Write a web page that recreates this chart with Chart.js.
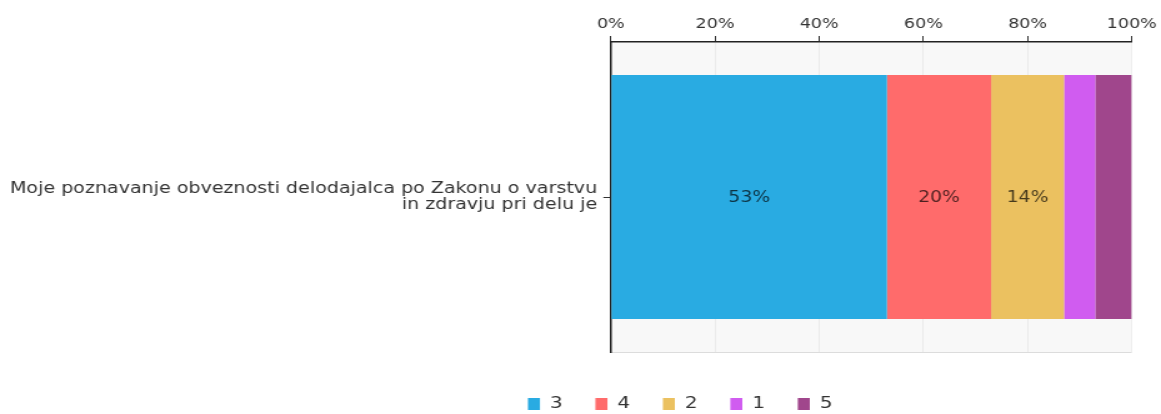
<!DOCTYPE html>
<html>
<head>
<meta charset="utf-8">
<script src="https://cdn.jsdelivr.net/npm/chart.js@4.4.1/dist/chart.umd.min.js"></script>
<style>
  html, body { margin: 0; padding: 0; background: #fff; overflow: hidden; width: 1161px; height: 414px; }
  #wrap { width: 1161px; height: 422px; }
  canvas { display: block; width: 1161px !important; height: 422px !important; }
</style>
</head>
<body>
<div id="wrap"><canvas id="c" width="929" height="422"></canvas></div>
<script>
// Survey item (one row) and answer shares in percent
const categories = [['Moje poznavanje obveznosti delodajalca po Zakonu o varstvu', 'in zdravju pri delu je']];
const seriesNames = ['3', '4', '2', '1', '5'];
const seriesValues = [[53], [20], [14], [6], [7]];
const seriesColors = ['#29abe2', '#ff6b6b', '#ebc160', '#d05cf0', '#a0468c'];
const tickValues = [0, 20, 40, 60, 80, 100];

const FONT = 'DejaVu Sans';
const LEGEND_SHIFT = 91.5;   // legend row sits right of the canvas centre

// light panel behind the plot area
const panelBg = {
  id: 'panelBg',
  beforeDraw(chart) {
    const { ctx, chartArea: a } = chart;
    ctx.save();
    ctx.fillStyle = '#f8f8f8';
    ctx.fillRect(a.left, a.top, a.right - a.left, a.bottom - a.top);
    ctx.strokeStyle = '#dcdcdc';
    ctx.lineWidth = 1;
    ctx.beginPath();
    ctx.moveTo(a.left, a.bottom + 0.5);
    ctx.lineTo(a.right, a.bottom + 0.5);
    ctx.stroke();
    ctx.restore();
  }
};

// move the legend box sideways once the layout is known
const legendOffset = {
  id: 'legendOffset',
  afterLayout(chart) {
    const lg = chart.legend;
    if (!lg) return;
    lg.left += LEGEND_SHIFT;
    lg.right += LEGEND_SHIFT;
  }
};

// percentage labels inside the wider segments
const segmentLabels = {
  id: 'segmentLabels',
  afterDatasetsDraw(chart) {
    const { ctx } = chart;
    ctx.save();
    ctx.font = '15px "' + FONT + '"';
    ctx.fillStyle = 'rgba(0,0,0,0.7)';
    ctx.textAlign = 'center';
    ctx.textBaseline = 'middle';
    chart.data.datasets.forEach((ds, i) => {
      const meta = chart.getDatasetMeta(i);
      meta.data.forEach((el, j) => {
        const v = ds.data[j];
        if (v < 10) return;
        ctx.fillText(v + '%', (el.x + el.base) / 2, el.y + 1);
      });
    });
    ctx.restore();
  }
};

new Chart(document.getElementById('c'), {
  type: 'bar',
  data: {
    labels: categories,
    datasets: seriesNames.map((name, i) => ({
      label: name,
      data: seriesValues[i],
      backgroundColor: seriesColors[i],
      borderWidth: 0,
      barPercentage: 0.787,
      categoryPercentage: 1
    }))
  },
  options: {
    indexAxis: 'y',
    responsive: false,
    animation: false,
    devicePixelRatio: 1,
    layout: { padding: { left: 0, right: 23.4, top: 0, bottom: 0 } },
    plugins: {
      legend: {
        position: 'bottom',
        labels: {
          color: '#333',
          font: { family: FONT, size: 16 },
          boxWidth: 9.6,
          boxHeight: 12,
          padding: 26.2
        }
      },
      tooltip: { enabled: false }
    },
    scales: {
      x: {
        type: 'linear',
        position: 'top',
        stacked: true,
        min: tickValues[0],
        max: tickValues[tickValues.length - 1],
        ticks: {
          stepSize: tickValues[1] - tickValues[0],
          callback: v => v + '%',
          color: '#333',
          font: { family: FONT, size: 14 },
          padding: 3,
          maxRotation: 0
        },
        grid: { color: 'rgba(0,0,0,0.05)', tickColor: '#333', tickLength: 6, lineWidth: 1 },
        border: { color: '#222', width: 1.5 },
        afterFit(s) { s.height = 42; }
      },
      x2: {
        type: 'linear',
        position: 'bottom',
        display: true,
        ticks: { display: false },
        grid: { display: false },
        border: { display: false },
        afterFit(s) { s.height = 17.8; }
      },
      y: {
        type: 'category',
        stacked: true,
        grid: { offset: false, drawOnChartArea: false, tickColor: '#333', tickLength: 6 },
        border: { color: '#222', width: 1.5 },
        ticks: {
          color: '#333',
          font: { family: FONT, size: 15.25, lineHeight: 1.05 },
          padding: 5
        },
        afterFit(s) { s.width = 488.8; }
      }
    }
  },
  plugins: [panelBg, legendOffset, segmentLabels]
});
</script>
</body>
</html>
